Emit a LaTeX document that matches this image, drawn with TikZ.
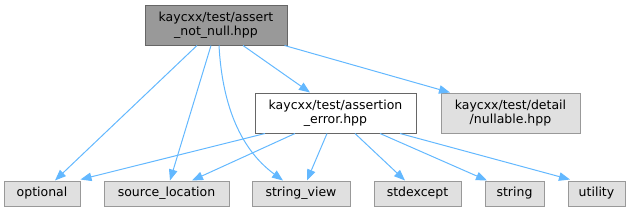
\documentclass[tikz,border=0pt]{standalone}
\usepackage{fontspec}
\setmainfont{DejaVu Sans}
\usetikzlibrary{arrows.meta}
\definecolor{edgeblue}{HTML}{63B8FF}
\definecolor{rootfill}{HTML}{999999}
\definecolor{rootdraw}{HTML}{666666}
\definecolor{leaffill}{HTML}{E0E0E0}
\definecolor{leafdraw}{HTML}{999999}
\begin{document}
\begin{tikzpicture}[x=1pt,y=-1pt,
  box/.style={rectangle, inner sep=0pt, align=center, font=\fontsize{12.5}{14}\selectfont, line width=1pt},
  rootbox/.style={box, fill=rootfill, draw=rootdraw},
  midbox/.style={box, fill=white, draw=rootdraw},
  leafbox/.style={box, fill=leaffill, draw=leafdraw},
  dep/.style={draw=edgeblue, line width=1pt, -{Triangle[length=11pt,width=8.5pt]}}]
\useasboundingbox (0,0) rectangle (634,212);
\node[rootbox, minimum width=142pt, minimum height=40pt] (root) at (216,25) {kaycxx/test/assert\\\_not\_null.hpp};
\node[midbox, minimum width=161pt, minimum height=40pt] (ae) at (335.5,113) {kaycxx/test/assertion\\\_error.hpp};
\node[leafbox, minimum width=139pt, minimum height=40pt] (nl) at (510.5,113) {kaycxx/test/detail\\/nullable.hpp};
\node[leafbox, minimum width=76pt, minimum height=25pt] (opt) at (42,193.5) {optional};
\node[leafbox, minimum width=125pt, minimum height=25pt] (sl) at (166.5,193.5) {source\_location};
\node[leafbox, minimum width=98pt, minimum height=25pt] (sv) at (301,193.5) {string\_view};
\node[leafbox, minimum width=87pt, minimum height=25pt] (se) at (417.5,193.5) {stdexcept};
\node[leafbox, minimum width=59pt, minimum height=25pt] (st) at (514.5,193.5) {string};
\node[leafbox, minimum width=57pt, minimum height=25pt] (ut) at (596.5,193.5) {utility};
% from root
\draw[dep] ([xshift=-19pt]root.south) -- ([xshift=13pt]opt.north);
\draw[dep] ([xshift=-5pt]root.south) -- ([xshift=3.5pt]sl.north);
\draw[dep] ([xshift=3pt]root.south) .. controls +(3,55) and +(-45,-33) .. ([xshift=-18pt]sv.north);
\draw[dep] ([xshift=27pt]root.south) -- ([xshift=-25.5pt]ae.north);
\draw[dep] ([xshift=-3pt]root.south east) -- ([xshift=-60.5pt]nl.north);
% from assertion_error
\draw[dep] ([xshift=-70.5pt]ae.south) -- ([yshift=1pt]opt.north east);
\draw[dep] ([xshift=-40.5pt]ae.south) -- ([xshift=25.5pt]sl.north);
\draw[dep] ([xshift=-8.5pt]ae.south) -- ([xshift=6pt]sv.north);
\draw[dep] ([xshift=19.5pt]ae.south) -- ([xshift=-12.5pt]se.north);
\draw[dep] ([xshift=44.5pt]ae.south) -- ([xshift=-27.5pt]st.north);
\draw[dep] ([xshift=64.5pt]ae.south) -- ([xshift=-26.5pt,yshift=1pt]ut.north);
\end{tikzpicture}
\end{document}
